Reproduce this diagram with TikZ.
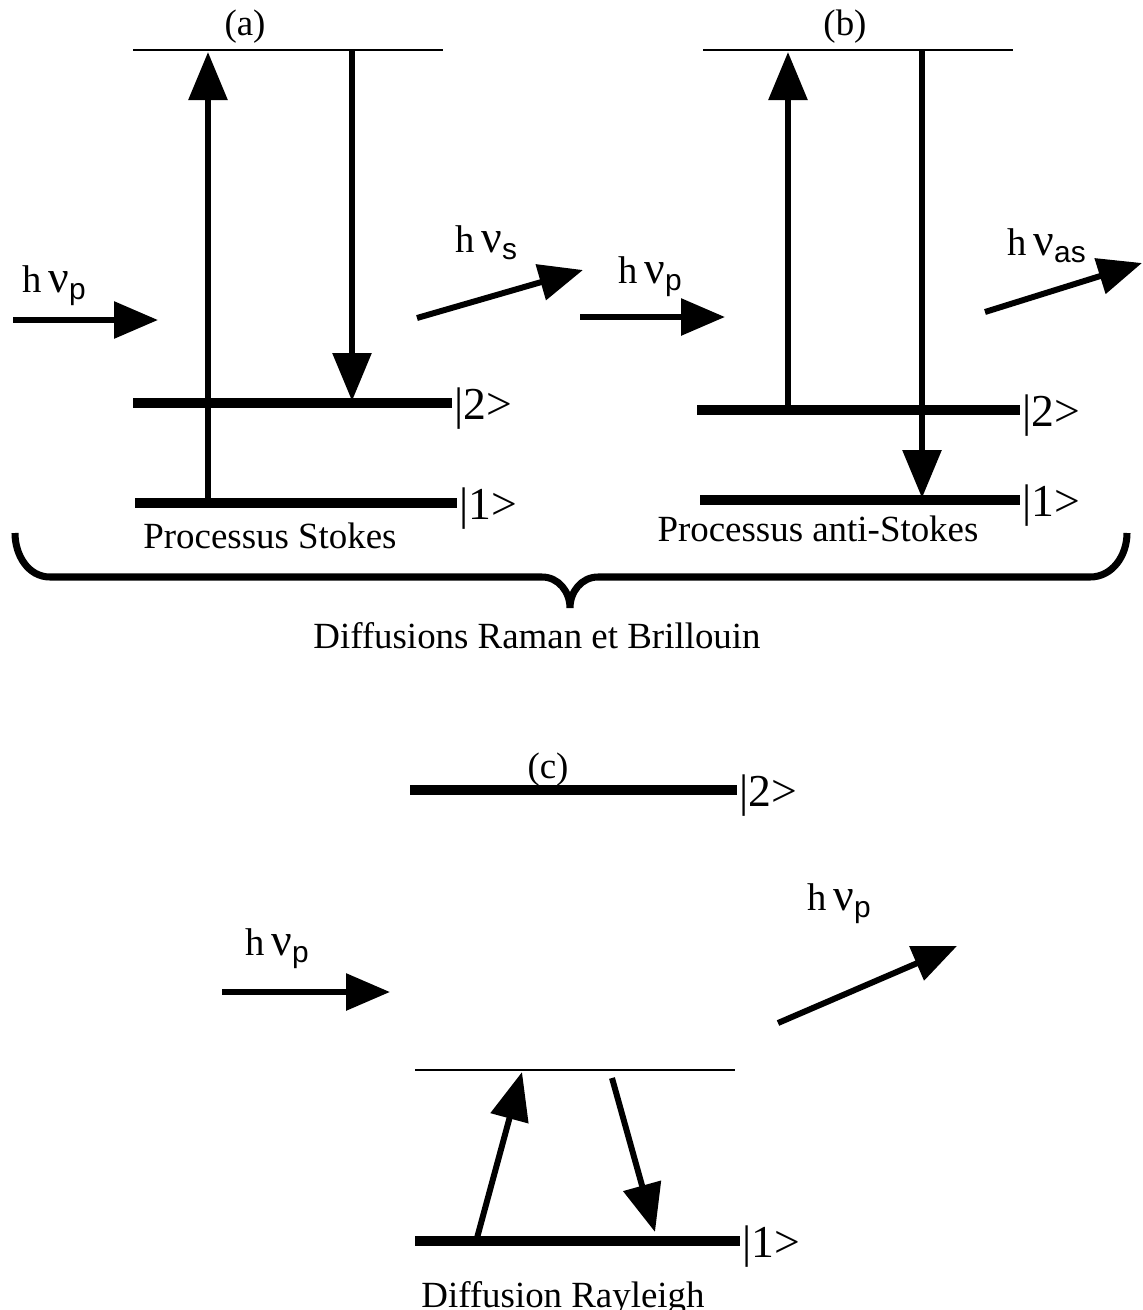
\documentclass[tikz,border=0pt]{standalone}
\usepackage{fontspec}
\setmainfont{Liberation Serif}
\setsansfont{Liberation Sans}
\usetikzlibrary{arrows.meta}
\usetikzlibrary{positioning}
\tikzset{level/.style = {line width = 3pt}}
\tikzset{virt/.style = {line width = 0.5pt}}
\tikzset{trans/.style = {line width = 1.7pt, -{Triangle[length = 4.8mm, width = 3.8mm]}}}
\tikzset{photon/.style = {line width = 1.7pt, -{Triangle[length = 4.4mm, width = 3.6mm]}}}
\tikzset{ket/.style = {anchor = west, inner sep = 0.5pt, yshift = -0.6mm, font = \fontsize{13}{15}\selectfont}}
\tikzset{txt/.style = {anchor = base, inner sep = 0, font = \fontsize{10.5}{12}\selectfont}}
\tikzset{nrg/.style = {anchor = base west, inner sep = 0, font = \fontsize{11}{13}\selectfont}}
\newcommand{\hnu}[1]{h\,{\fontsize{13}{14}\selectfont ν}\raisebox{-0.45ex}{\sffamily\fontsize{8.5}{9}\selectfont #1}}

\begin{document}
\begin{tikzpicture}
      \useasboundingbox (0, 0) rectangle (11.43, -13.10);

      % (a) Stokes
      \coordinate (a top l) at (1.33, -0.50);
      \coordinate (a top r) at (4.43, -0.50);
      \draw [virt] (a top l) -- (a top r);
      \node [txt] (a title) at (2.45, -0.35) {(a)};
      \coordinate (a two l) at (1.33, -4.03);
      \coordinate (a two r) at (4.52, -4.03);
      \draw [level] (a two l) -- (a two r);
      \node [ket] (a ket2) at (a two r) {|2>};
      \coordinate (a one l) at (1.35, -5.03);
      \coordinate (a one r) at (4.57, -5.03);
      \draw [level] (a one l) -- (a one r);
      \node [ket] (a ket1) at (a one r) {|1>};
      \coordinate (a up0) at (2.08, -5.03);
      \coordinate (a up1) at (2.08, -0.52);
      \draw [trans] (a up0) -- (a up1);
      \coordinate (a dn0) at (3.52, -0.50);
      \coordinate (a dn1) at (3.52, -4.01);
      \draw [trans] (a dn0) -- (a dn1);
      \node [txt] (a name) at (2.70, -5.48) {Processus Stokes};
      \coordinate (a in0) at (0.13, -3.20);
      \coordinate (a in1) at (1.58, -3.20);
      \draw [photon] (a in0) -- (a in1);
      \node [nrg] (a in lbl) at (0.22, -2.92) {\hnu{p}};
      \coordinate (a out0) at (4.17, -3.18);
      \coordinate (a out1) at (5.83, -2.70);
      \draw [photon] (a out0) -- (a out1);
      \node [nrg] (a out lbl) at (4.55, -2.52) {\hnu{s}};

      % (b) anti-Stokes
      \coordinate (b top l) at (7.03, -0.50);
      \coordinate (b top r) at (10.13, -0.50);
      \draw [virt] (b top l) -- (b top r);
      \node [txt] (b title) at (8.45, -0.35) {(b)};
      \coordinate (b two l) at (6.97, -4.10);
      \coordinate (b two r) at (10.20, -4.10);
      \draw [level] (b two l) -- (b two r);
      \node [ket] (b ket2) at (b two r) {|2>};
      \coordinate (b one l) at (7.00, -5.00);
      \coordinate (b one r) at (10.20, -5.00);
      \draw [level] (b one l) -- (b one r);
      \node [ket] (b ket1) at (b one r) {|1>};
      \coordinate (b up0) at (7.88, -4.10);
      \coordinate (b up1) at (7.88, -0.52);
      \draw [trans] (b up0) -- (b up1);
      \coordinate (b dn0) at (9.22, -0.50);
      \coordinate (b dn1) at (9.22, -4.98);
      \draw [trans] (b dn0) -- (b dn1);
      \node [txt] (b name) at (8.18, -5.41) {Processus anti-Stokes};
      \coordinate (b in0) at (5.80, -3.17);
      \coordinate (b in1) at (7.25, -3.17);
      \draw [photon] (b in0) -- (b in1);
      \node [nrg] (b in lbl) at (6.18, -2.83) {\hnu{p}};
      \coordinate (b out0) at (9.85, -3.12);
      \coordinate (b out1) at (11.42, -2.63);
      \draw [photon] (b out0) -- (b out1);
      \node [nrg] (b out lbl) at (10.07, -2.55) {\hnu{as}};

      % brace
      \draw [line width = 2pt] (0.15, -5.33) to [out = -90, in = 180] (0.50, -5.77)
        -- (5.42, -5.77) to [out = 0, in = 90] (5.70, -6.08)
        to [out = 90, in = 180] (5.98, -5.77) -- (10.90, -5.77)
        to [out = 0, in = -90] (11.27, -5.33);
      \node [txt] (ab name) at (5.37, -6.48) {Diffusions Raman et Brillouin};

      % (c) Rayleigh
      \node [txt] (c title) at (5.48, -7.78) {(c)};
      \coordinate (c two l) at (4.10, -7.90);
      \coordinate (c two r) at (7.37, -7.90);
      \draw [level] (c two l) -- (c two r);
      \node [ket] (c ket2) at (c two r) {|2>};
      \coordinate (c top l) at (4.15, -10.70);
      \coordinate (c top r) at (7.35, -10.70);
      \draw [virt] (c top l) -- (c top r);
      \coordinate (c one l) at (4.15, -12.41);
      \coordinate (c one r) at (7.40, -12.41);
      \draw [level] (c one l) -- (c one r);
      \node [ket] (c ket1) at (c one r) {|1>};
      \coordinate (c up0) at (4.77, -12.38);
      \coordinate (c up1) at (5.22, -10.72);
      \draw [trans] (c up0) -- (c up1);
      \coordinate (c dn0) at (6.12, -10.78);
      \coordinate (c dn1) at (6.55, -12.32);
      \draw [trans] (c dn0) -- (c dn1);
      \node [txt] (c name) at (5.63, -13.07) {Diffusion Rayleigh};
      \coordinate (c in0) at (2.22, -9.92);
      \coordinate (c in1) at (3.90, -9.92);
      \draw [photon] (c in0) -- (c in1);
      \node [nrg] (c in lbl) at (2.45, -9.55) {\hnu{p}};
      \coordinate (c out0) at (7.78, -10.23);
      \coordinate (c out1) at (9.57, -9.46);
      \draw [photon] (c out0) -- (c out1);
      \node [nrg] (c out lbl) at (8.07, -9.10) {\hnu{p}};
    \end{tikzpicture}
\end{document}
